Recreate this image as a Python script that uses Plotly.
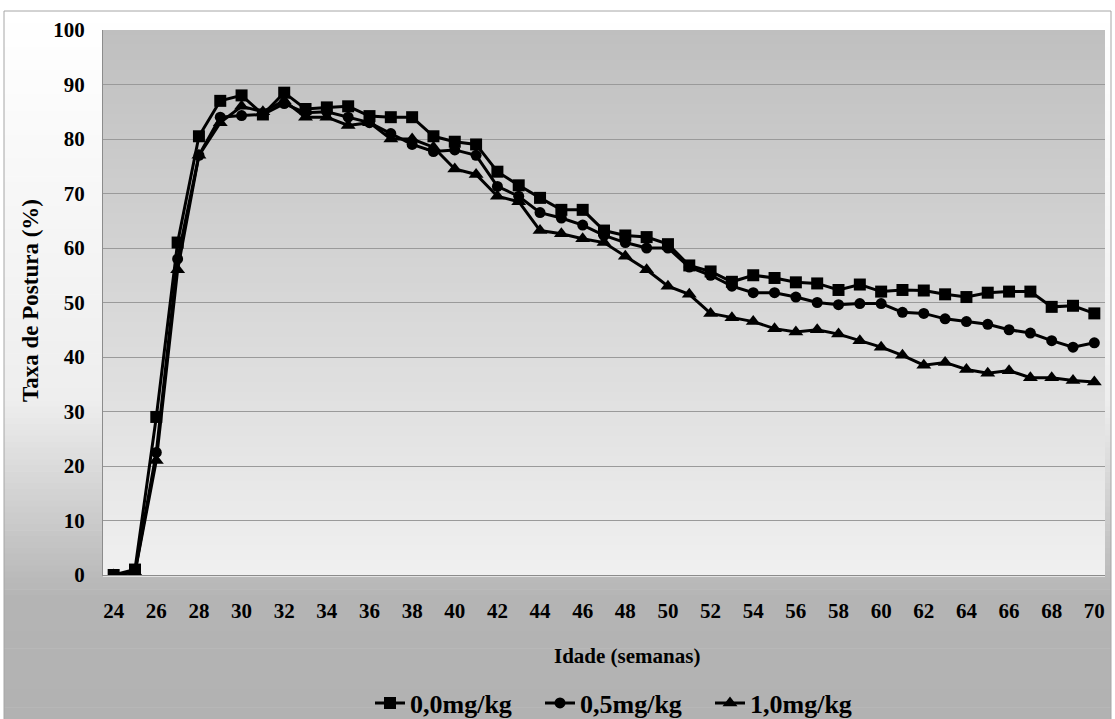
import plotly.graph_objects as go

# ---------------- data ----------------
weeks = list(range(24, 71))
dose_00 = [0, 1, 29, 61, 80.5, 87, 88, 84.5, 88.5, 85.5, 85.8, 86, 84.2, 84, 84,
           80.5, 79.5, 79, 74, 71.5, 69.2, 67, 67, 63.2, 62.3, 62, 60.7, 56.8, 55.7,
           53.8, 55, 54.5, 53.7, 53.5, 52.3, 53.3, 52, 52.3, 52.2, 51.5, 51, 51.8,
           52, 52, 49.2, 49.4, 48]
dose_05 = [0, 0.5, 22.5, 58, 77, 84, 84.3, 84.5, 86.5, 84.8, 85, 84, 83, 81, 79,
           77.7, 78, 77, 71.3, 69.5, 66.5, 65.5, 64.2, 62.3, 61, 60, 60, 56.5, 55,
           53, 51.8, 51.8, 51, 50, 49.6, 49.8, 49.8, 48.2, 48, 47, 46.5, 46, 45,
           44.4, 43, 41.8, 42.6]
dose_10 = [0, 0.5, 21, 56, 77, 83, 86, 85, 87, 84, 84, 82.5, 83, 80, 80,
           78.5, 74.5, 73.5, 69.5, 68.5, 63.2, 62.6, 61.7, 61, 58.5, 56, 53, 51.5, 48,
           47.2, 46.5, 45.2, 44.6, 45, 44.2, 43, 41.8, 40.3, 38.5, 39, 37.7, 37, 37.5,
           36.2, 36.2, 35.7, 35.4]
series_names = ["0,0mg/kg", "0,5mg/kg", "1,0mg/kg"]
x_ticks = list(range(24, 71, 2))
y_ticks = list(range(0, 101, 10))

# ---------------- layout geometry ----------------
W, H = 1115, 719
L, R, T, B = 103, 10, 30, 144
pw = W - L - R
ph = H - T - B
FONT = "Liberation Serif"


def px_to_paper_x(X):
    return (X - L) / pw


def px_to_paper_y(Y):
    return (H - B - Y) / ph


def lerp(a, b, t):
    return a + (b - a) * t


shapes = []
# outer chart area gradient (white at top -> gray at bottom)
top_px, bot_px = 11, H
n = 120
stops = [(0.0, 255), (0.55, 238), (0.83, 180), (1.0, 178)]
for i in range(n):
    y0 = top_px + (bot_px - top_px) * i / n
    y1 = top_px + (bot_px - top_px) * (i + 1) / n
    t = (i + 0.5) / n
    for k in range(len(stops) - 1):
        if stops[k][0] <= t <= stops[k + 1][0]:
            tt = (t - stops[k][0]) / (stops[k + 1][0] - stops[k][0])
            g = int(round(lerp(stops[k][1], stops[k + 1][1], tt)))
            break
    c = f"rgb({g},{g},{g})"
    shapes.append(dict(type="rect", xref="paper", yref="paper", layer="below",
                       x0=px_to_paper_x(4), x1=px_to_paper_x(1111),
                       y0=px_to_paper_y(y0), y1=px_to_paper_y(y1 + 0.6),
                       fillcolor=c, line=dict(width=0)))
# outer border
shapes.append(dict(type="rect", xref="paper", yref="paper", layer="below",
                   x0=px_to_paper_x(4), x1=px_to_paper_x(1111),
                   y0=px_to_paper_y(11), y1=px_to_paper_y(H + 2),
                   fillcolor="rgba(0,0,0,0)", line=dict(width=1, color="#a6a6a6")))
# plot area gradient (gray at top -> light at bottom)
m = 110
for i in range(m):
    t = (i + 0.5) / m
    g = int(round(lerp(191, 240, t)))
    c = f"rgb({g},{g},{g})"
    shapes.append(dict(type="rect", xref="paper", yref="paper", layer="below",
                       x0=0, x1=1, y0=1 - i / m, y1=1 - (i + 1) / m - 0.003,
                       fillcolor=c, line=dict(width=0)))

fig = go.Figure()
symbols = ["square", "circle", "triangle-up"]
sizes = [12, 11, 13]
for name, vals, sym, sz in zip(series_names, [dose_00, dose_05, dose_10], symbols, sizes):
    fig.add_trace(go.Scatter(x=weeks, y=vals, name=f"<b>{name}</b>", mode="lines+markers",
                             line=dict(color="black", width=3),
                             marker=dict(symbol=sym, size=sz, color="black")))

fig.update_layout(
    width=W, height=H,
    margin=dict(l=L, r=R, t=T, b=B, pad=0, autoexpand=False),
    paper_bgcolor="white",
    plot_bgcolor="rgba(0,0,0,0)",
    shapes=shapes,
    font=dict(family=FONT, color="black"),
    showlegend=True,
    legend=dict(orientation="h", x=px_to_paper_x(370), xanchor="left",
                y=px_to_paper_y(703), yanchor="middle",
                font=dict(family=FONT, size=26, color="black"),
                bgcolor="rgba(0,0,0,0)", entrywidth=125, entrywidthmode="pixels",
                tracegroupgap=0),
    annotations=[
        dict(text="<b>Idade (semanas)</b>", xref="paper", yref="paper",
             x=px_to_paper_x(627), y=px_to_paper_y(656), xanchor="center", yanchor="middle",
             showarrow=False, font=dict(family=FONT, size=21, color="black")),
        dict(text="<b>Taxa de Postura (%)</b>", xref="paper", yref="paper",
             x=px_to_paper_x(30), y=px_to_paper_y(301), xanchor="center", yanchor="middle",
             textangle=-90, showarrow=False, font=dict(family=FONT, size=23, color="black")),
    ],
)
fig.update_xaxes(range=[23.5, 70.5], tickmode="array", tickvals=x_ticks,
                 ticktext=[f"<b>{v}</b>" for v in x_ticks],
                 tickfont=dict(family=FONT, size=21, color="black"),
                 showgrid=False, zeroline=False, showline=True, linecolor="#8c8c8c",
                 linewidth=1, ticks="", ticklabelstandoff=17, automargin=False)
fig.update_yaxes(range=[0, 100], tickmode="array", tickvals=y_ticks,
                 ticktext=[f"<b>{v}</b>" for v in y_ticks],
                 tickfont=dict(family=FONT, size=21, color="black"),
                 showgrid=True, gridcolor="#9a9a9a", gridwidth=1, zeroline=False,
                 showline=True, linecolor="#8c8c8c", linewidth=1, ticks="",
                 ticklabelstandoff=13, automargin=False)

fig.write_html("out.html")
